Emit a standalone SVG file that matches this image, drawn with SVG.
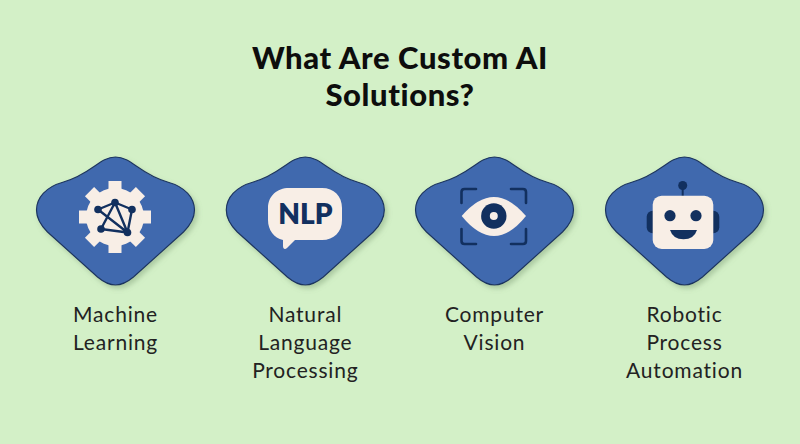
<svg xmlns="http://www.w3.org/2000/svg" width="800" height="444" viewBox="0 0 800 444">
<style>
.bg{fill:#d3f0c7}
.title{font-family:"Lato","Noto Sans",sans-serif;font-weight:900;font-size:31px;fill:#0d0d0d;text-anchor:middle;letter-spacing:.6px}
.lab{font-family:"Lato","Noto Sans",sans-serif;font-size:21px;fill:#222;text-anchor:middle;letter-spacing:.8px}
.blob{fill:#4169ae;stroke:#1c3560;stroke-width:1.2}
.cream{fill:#f8eee6}
.navy{fill:#12305f}
.ln{fill:none;stroke:#12305f;stroke-linecap:round;stroke-linejoin:round}
</style>
<defs>
<filter id="sh" x="-10%" y="-10%" width="125%" height="125%"><feDropShadow dx="2.500" dy="3" stdDeviation="2.500" flood-color="#6f8f68" flood-opacity=".4"/></filter>
<path id="b" class="blob" filter="url(#sh)" d="M0 -67C16 -67 25 -49 52 -42C70 -37 79 -26 79 -14C79 -5 75 1 68 8L18 53C12 58 6 61 0 61C-6 61 -12 58 -18 53L-68 8C-75 1 -79 -5 -79 -14C-79 -26 -70 -37 -52 -42C-25 -49 -16 -67 0 -67Z"/>
</defs>
<rect class="bg" width="800" height="444"/>
<g id="title"><text class="title" x="400" y="68.500">What Are Custom AI</text><text class="title" x="400" y="106">Solutions?</text></g>
<g id="ml"><use href="#b" x="115.500" y="224"/>
<g transform="translate(115 217)"><circle class="cream" r="29"/>
<g class="cream"><rect x="-6.500" y="-36" width="13" height="72"/><rect x="-36" y="-6.500" width="72" height="13"/><rect x="-6.500" y="-36" width="13" height="72" transform="rotate(45)"/><rect x="-6.500" y="-36" width="13" height="72" transform="rotate(-45)"/></g></g>
<path class="ln" stroke-width="2.400" d="M98 209.500L115 202.500L132 209.500L127.500 232.500L101 229L115 202.500L127.500 232.500L98 209.500"/>
<g class="navy"><circle cx="98" cy="209.500" r="3.800"/><circle cx="115" cy="202.500" r="3.800"/><circle cx="132" cy="209.500" r="3.800"/><circle cx="101" cy="229" r="3.800"/><circle cx="127.500" cy="232.500" r="3.800"/></g>
<text class="lab" x="115.500" y="322">Machine</text><text class="lab" x="115.500" y="350">Learning</text></g>
<g id="nlp"><use href="#b" x="305.300" y="224"/>
<path class="cream" d="M289 188H322C334 188 342 196 342 208V220C342 232 334 240 322 240H295L287 248C285 250 283 249 283 246V240C274 238 268 230 268 220V208C268 196 277 188 289 188Z"/>
<text x="305.500" y="224" text-anchor="middle" style="font-family:'Lato','Noto Sans',sans-serif;font-weight:800;font-size:28px;fill:#12305f">NLP</text>
<text class="lab" x="305.300" y="322">Natural</text><text class="lab" x="305.300" y="350">Language</text><text class="lab" x="305.300" y="378">Processing</text></g>
<g id="cv"><use href="#b" x="494.500" y="224"/>
<path class="ln" stroke-width="2.600" d="M461.500 203V192Q461.500 189 464.500 189H476M511 189H523Q526 189 526 192V203M461.500 229V241Q461.500 244 464.500 244H476M511 244H523Q526 244 526 241V229"/>
<path class="cream" d="M461.700 216Q478 197 494 197Q510 197 526 216Q510 236 494 236Q478 236 461.700 216Z"/>
<circle class="navy" cx="493.800" cy="216" r="12.700"/><circle class="cream" cx="493.800" cy="216" r="4"/>
<text class="lab" x="494.500" y="322">Computer</text><text class="lab" x="494.500" y="350">Vision</text></g>
<g id="rpa"><use href="#b" x="684.500" y="224"/>
<path class="ln" stroke-width="2" d="M682.700 189V197"/><circle class="navy" cx="682.700" cy="185.500" r="4.500"/>
<rect class="navy" x="646.700" y="210.700" width="14" height="22.600" rx="6"/><rect class="navy" x="705.300" y="210.700" width="14" height="22.600" rx="6"/>
<rect class="cream" x="652.700" y="195.700" width="60.600" height="53.300" rx="9"/>
<circle class="navy" cx="670" cy="215.700" r="5.600"/><circle class="navy" cx="696" cy="215.700" r="5.600"/>
<path class="navy" d="M670 230H697Q694 239.300 683.500 239.300Q673 239.300 670 230Z"/>
<text class="lab" x="684.500" y="322">Robotic</text><text class="lab" x="684.500" y="350">Process</text><text class="lab" x="684.500" y="378">Automation</text></g>
</svg>
